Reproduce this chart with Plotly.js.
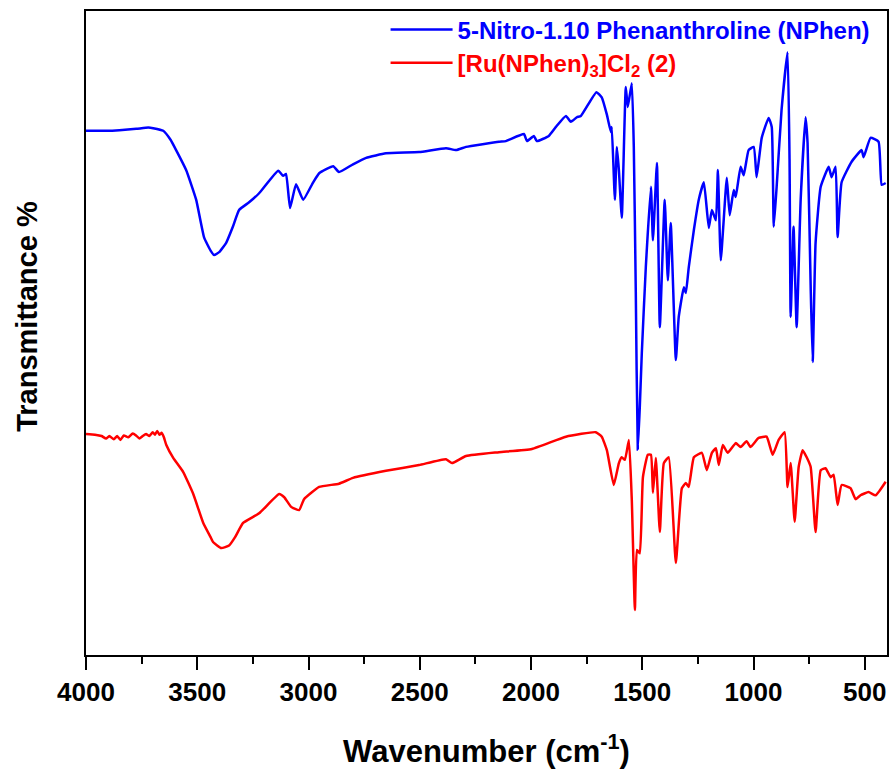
<!DOCTYPE html>
<html>
<head>
<meta charset="utf-8">
<script src="https://cdn.plot.ly/plotly-3.0.1.min.js"></script>
<style>html,body{margin:0;padding:0;background:#fff;}#chart{width:892px;height:774px;}</style>
</head>
<body>
<div id="chart"></div>
<script>
// 5-Nitro-1.10 Phenanthroline (NPhen) — wavenumber (cm-1) and transmittance (arbitrary %, offset)
const nphenWavenumber = [4000,3909,3850,3774,3720,3698,3653,3620,3595,3550,3505,3469,3440,3424,3400,3370,3340,3312,3267,3222,3136,3114,3101,3083,3056,3024,2979,2952,2889,2863,2800,2741,2652,2503,2382,2337,2292,2144,2113,2032,2018,1987,1974,1920,1888,1843,1821,1794,1776,1706,1682,1659,1641,1637,1623,1614,1605,1592,1574,1565,1547,1538,1529,1520,1511,1502,1484,1461,1452,1434,1421,1399,1385,1372,1349,1336,1313,1304,1291,1268,1246,1223,1201,1187,1169,1160,1147,1120,1107,1089,1080,1058,1044,1022,999,986,963,932,918,909,896,874,847,838,833,820,806,788,766,757,743,734,721,698,662,649,631,622,604,559,514,505,474,438,424,406];
const nphenTransmittance = [81.4,81.4,81.5,81.7,81.9,81.8,81.4,80.0,78.4,75.3,70.7,64.8,62.8,62.1,62.6,64.0,66.5,69.1,70.3,71.7,75.2,74.4,74.7,69.4,73.1,70.7,73.4,74.8,75.9,75.0,76.2,77.2,77.9,78.1,78.7,78.4,78.9,79.7,79.8,80.9,79.8,80.6,79.8,80.6,82.0,83.7,82.8,83.5,83.7,87.4,86.6,83.9,81.2,82.0,70.7,78.9,75.3,67.9,88.2,85.1,88.8,78.9,56.2,31.9,38.5,46.9,60.2,72.7,64.4,76.4,50.9,70.7,58.2,67.1,45.8,52.5,57.1,56.2,60.2,66.0,70.7,73.4,66.3,69.1,67.5,75.3,61.3,74.1,68.3,72.2,71.1,75.8,74.5,78.4,78.9,74.2,80.3,83.4,82.0,66.5,72.7,84.6,93.6,76.9,52.5,66.5,50.9,70.7,83.5,79.5,57.1,45.5,64.0,72.7,75.8,74.2,75.8,64.9,73.4,76.6,78.4,77.3,80.3,79.7,73.0,73.3];

// [Ru(NPhen)3]Cl2 (2)
const ruWavenumber = [4000,3960,3930,3910,3895,3875,3860,3845,3830,3810,3790,3775,3760,3745,3730,3715,3700,3690,3680,3670,3660,3650,3639,3608,3563,3518,3473,3440,3428,3392,3357,3330,3294,3222,3132,3109,3078,3042,3020,2952,2863,2800,2652,2503,2382,2355,2292,2144,1996,1843,1709,1682,1659,1628,1605,1592,1578,1560,1547,1533,1524,1511,1497,1475,1461,1452,1439,1421,1403,1381,1349,1322,1304,1291,1268,1232,1210,1187,1169,1156,1138,1116,1080,1058,1031,1013,977,941,914,887,860,847,833,815,797,779,761,743,721,698,676,653,640,622,604,564,541,519,483,451,406];
const ruTransmittance = [34.3,34.2,34.0,33.6,34.0,33.5,34.0,33.4,34.1,33.8,34.4,34.1,33.6,34.0,34.3,34.0,34.6,34.2,34.8,34.2,34.5,33.8,32.6,30.6,28.4,25.0,20.5,18.3,17.5,16.6,17.0,18.3,20.5,22.0,25.0,24.5,23.0,22.5,24.2,26.1,26.6,27.5,28.6,29.5,30.4,29.8,30.9,31.5,32.0,33.9,34.6,33.9,31.8,26.4,29.8,30.7,30.3,33.4,24.1,7.0,16.3,15.8,27.6,31.1,31.1,25.2,30.6,19.1,29.8,30.7,14.3,25.9,26.7,26.1,30.7,31.4,28.7,31.4,32.1,29.5,32.6,31.4,32.9,32.3,33.2,32.3,33.7,33.9,31.1,33.4,34.6,26.1,29.8,20.7,29.2,31.8,30.7,29.2,19.1,28.7,29.0,27.6,28.0,23.3,26.4,25.9,24.2,24.8,25.3,24.8,26.9];

const xTickVals = [4000,3500,3000,2500,2000,1500,1000,500];
const xTickText = ['4000','3500','3000','2500','2000','1500','1000','500'];

const font = 'Arial, "Liberation Sans", sans-serif';

const traces = [
  {x: nphenWavenumber, y: nphenTransmittance, type: 'scatter', mode: 'lines',
   name: '<span style="color:#0000FF">5-Nitro-1.10 Phenanthroline (NPhen)</span>',
   legend: 'legend',
   line: {color: '#0000FF', width: 2.5, shape: 'spline', smoothing: 0.4}},
  {x: ruWavenumber, y: ruTransmittance, type: 'scatter', mode: 'lines',
   name: '<span style="color:#FF0000">[Ru(NPhen)<sub>3</sub>]Cl<sub>2</sub> (2)</span>',
   legend: 'legend2',
   line: {color: '#FF0000', width: 2.5, shape: 'spline', smoothing: 0.4}}
];

const legendCommon = {xanchor: 'left', yanchor: 'middle',
  font: {family: font, size: 24, weight: 'bold'},
  bgcolor: 'rgba(0,0,0,0)', borderwidth: 0, itemwidth: 62};

const layout = {
  width: 892, height: 774,
  margin: {l: 86, r: 5, t: 11, b: 119},
  paper_bgcolor: '#fff', plot_bgcolor: '#fff',
  font: {family: font, color: '#000'},
  showlegend: true,
  legend: Object.assign({x: 0.374, y: 0.9705}, legendCommon),
  legend2: Object.assign({x: 0.374, y: 0.919}, legendCommon),
  xaxis: {
    range: [4000, 400], autorange: false,
    tickmode: 'array', tickvals: xTickVals, ticktext: xTickText,
    ticks: 'outside', ticklen: 13, tickwidth: 2, tickcolor: '#000',
    minor: {dtick: 250, ticks: 'outside', ticklen: 7, tickwidth: 2, tickcolor: '#000'},
    showline: true, linewidth: 2, linecolor: '#000', mirror: true,
    showgrid: false, zeroline: false,
    tickfont: {family: font, size: 26, weight: 'bold', color: '#000'},
    title: {text: 'Wavenumber (cm<sup>-1</sup>)', font: {family: font, size: 31, weight: 'bold', color: '#000'}, standoff: 34}
  },
  yaxis: {
    range: [0, 100], autorange: false,
    showticklabels: false, ticks: '',
    showline: true, linewidth: 2, linecolor: '#000', mirror: true,
    showgrid: false, zeroline: false
  },
  annotations: [
    {text: 'Transmittance %', xref: 'paper', yref: 'paper', x: -0.073, y: 0.526,
     xanchor: 'center', yanchor: 'middle', textangle: -90, showarrow: false,
     font: {family: font, size: 29, weight: 'bold', color: '#000'}}
  ]
};

Plotly.newPlot('chart', traces, layout, {displayModeBar: false, staticPlot: true});
</script>
</body>
</html>
